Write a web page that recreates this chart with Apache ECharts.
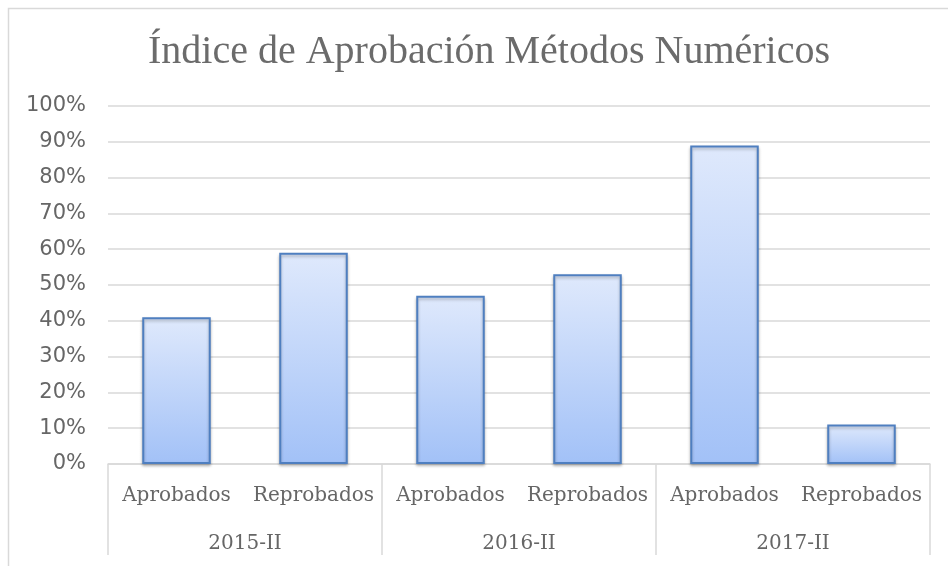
<!DOCTYPE html>
<html>
<head>
<meta charset="utf-8">
<script src="https://cdn.jsdelivr.net/npm/echarts@6/dist/echarts.min.js"></script>
<style>html,body{margin:0;padding:0;background:#fff}#c{width:948px;height:566px}</style>
</head>
<body>
<div id="c"></div>
<script>
const titleText = 'Índice de Aprobación Métodos Numéricos';
const categories = ['Aprobados', 'Reprobados', 'Aprobados', 'Reprobados', 'Aprobados', 'Reprobados'];
const groups = ['2015-II', '2016-II', '2017-II'];
const values = [0.41, 0.59, 0.47, 0.53, 0.89, 0.11];

const chart = echarts.init(document.getElementById('c'));
chart.setOption({
  animation: false,
  backgroundColor: '#fff',
  title: {
    text: titleText, left: 484, textAlign: 'center', top: 27,
    textStyle: { fontFamily: 'Liberation Serif', fontSize: 40, fontWeight: 'normal', color: '#6b6b6b' }
  },
  graphic: [{
    type: 'rect', shape: { x: 8.5, y: 8.5, width: 1100, height: 1100 },
    style: { fill: 'none', stroke: '#d9d9d9', lineWidth: 1.5 }, silent: true
  }],
  grid: { left: 108, right: 18, top: 106, bottom: 102, containLabel: false },
  xAxis: [{
    type: 'category', data: categories, position: 'bottom',
    axisLine: { show: true, lineStyle: { color: '#d9d9d9', width: 1.5 } },
    axisTick: { show: false },
    axisLabel: { interval: 0, margin: 22, fontFamily: 'DejaVu Serif', fontSize: 20, color: '#666' }
  }, {
    type: 'category', data: groups, position: 'bottom', boundaryGap: true,
    axisLine: { show: false },
    axisTick: { show: true, interval: 0, length: 91, lineStyle: { color: '#d9d9d9', width: 1.5 } },
    axisLabel: { interval: 0, margin: 70, fontFamily: 'DejaVu Serif', fontSize: 20, color: '#666' }
  }],
  yAxis: {
    type: 'value', min: 0, max: 1, interval: 0.1,
    axisLine: { show: false }, axisTick: { show: false },
    splitLine: { lineStyle: { color: '#d9d9d9', width: 1.5 } },
    axisLabel: {
      margin: 22, fontFamily: 'DejaVu Sans', fontSize: 21, color: '#666',
      formatter: v => Math.round(v * 100) + '%'
    }
  },
  series: [{
    type: 'bar', data: values, xAxisIndex: 0, barWidth: '50%',
    itemStyle: {
      color: new echarts.graphic.LinearGradient(0, 0, 0, 1, [
        { offset: 0, color: '#dfe9fc' }, { offset: 1, color: '#a2c1f7' }
      ]),
      borderColor: '#4f7fc0', borderWidth: 2,
      shadowColor: 'rgba(0,0,0,0.25)', shadowBlur: 3, shadowOffsetY: 2
    }
  }]
});
</script>
</body>
</html>
